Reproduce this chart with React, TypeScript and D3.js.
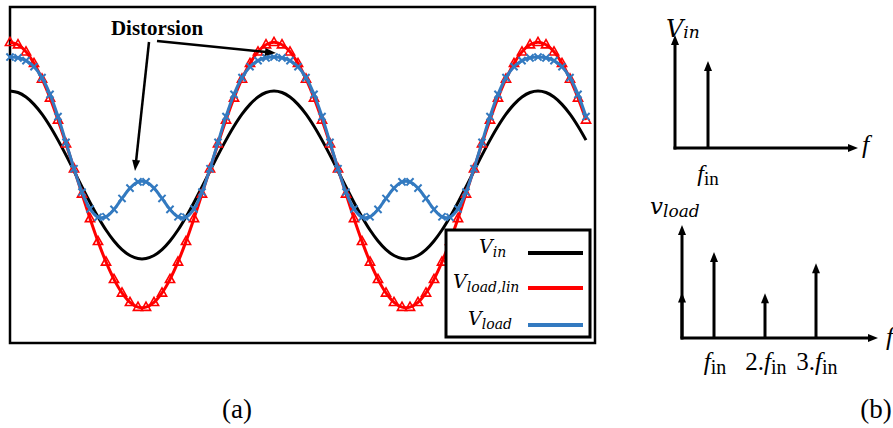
import React from "react";
import * as d3 from "d3";

const W = 893;
const H = 428;

// Time-domain series (sample index 0..72)
const vIn = [
  1.0, 0.982, 0.928, 0.841, 0.724, 0.58, 0.415, 0.236, 0.048, -0.142, -0.327, -0.5, -0.655, -0.786, -0.889, -0.959, -0.995,
  -0.995, -0.959, -0.889, -0.786, -0.655, -0.5, -0.327, -0.142, 0.048, 0.236, 0.415, 0.58, 0.724, 0.841, 0.928, 0.982,
  1.0, 0.982, 0.928, 0.841, 0.724, 0.58, 0.415, 0.236, 0.048, -0.142, -0.327, -0.5, -0.655, -0.786, -0.889, -0.959, -0.995,
  -0.995, -0.959, -0.889, -0.786, -0.655, -0.5, -0.327, -0.142, 0.048, 0.236, 0.415, 0.58, 0.724, 0.841, 0.928, 0.982,
  1.0, 0.982, 0.928, 0.841, 0.724, 0.58, 0.415,
];
const vLoadLin = [
  1.58, 1.551, 1.467, 1.329, 1.143, 0.917, 0.656, 0.372, 0.075, -0.225, -0.517, -0.79, -1.035, -1.242, -1.404, -1.516, -1.573,
  -1.573, -1.516, -1.404, -1.242, -1.035, -0.79, -0.517, -0.225, 0.075, 0.372, 0.656, 0.917, 1.143, 1.329, 1.467, 1.551,
  1.58, 1.551, 1.467, 1.329, 1.143, 0.917, 0.656, 0.372, 0.075, -0.225, -0.517, -0.79, -1.035, -1.242, -1.404, -1.516, -1.573,
  -1.573, -1.516, -1.404, -1.242, -1.035, -0.79, -0.517, -0.225, 0.075, 0.372, 0.656, 0.917, 1.143, 1.329, 1.467, 1.551,
  1.58, 1.551, 1.467, 1.329, 1.143, 0.917, 0.656,
];
const vLoad = [
  1.404, 1.395, 1.362, 1.289, 1.159, 0.96, 0.696, 0.389, 0.075, -0.203, -0.404, -0.503, -0.497, -0.409, -0.279, -0.156, -0.082,
  -0.082, -0.156, -0.279, -0.409, -0.497, -0.503, -0.404, -0.203, 0.075, 0.389, 0.696, 0.96, 1.159, 1.289, 1.362, 1.395,
  1.404, 1.395, 1.362, 1.289, 1.159, 0.96, 0.696, 0.389, 0.075, -0.203, -0.404, -0.503, -0.497, -0.409, -0.279, -0.156, -0.082,
  -0.082, -0.156, -0.279, -0.409, -0.497, -0.503, -0.404, -0.203, 0.075, 0.389, 0.696, 0.96, 1.159, 1.289, 1.362, 1.395,
  1.404, 1.395, 1.362, 1.289, 1.159, 0.96, 0.696,
];

const legendMain = ["V", "V", "V"];
const legendSub = ["in", "load,lin", "load"];

// Spectra
const inSpecHarm = [1];
const inSpecAmp = [1.0];
const loadSpecHarm = [0, 1, 2, 3];
const loadSpecAmp = [0.53, 1.0, 0.52, 0.87];
const loadSpecPrefix = ["", "", "2.", "3."];

const BLACK = "#000000";
const RED = "#ff0000";
const BLUE = "#337ac0";
const MATH = "DejaVu Serif, Liberation Serif, serif";
const TIMES = "Liberation Serif, Times New Roman, Times, serif";

function head(tx: number, ty: number, fx: number, fy: number, len = 10, wid = 8) {
  const a = Math.atan2(ty - fy, tx - fx);
  const bx = tx - len * Math.cos(a);
  const by = ty - len * Math.sin(a);
  const px = (wid / 2) * Math.sin(a);
  const py = (wid / 2) * Math.cos(a);
  return `${tx},${ty} ${bx + px},${by - py} ${bx - px},${by + py}`;
}

function Arrow({ x1, y1, x2, y2, w = 3, len = 10, wid = 8 }: any) {
  const a = Math.atan2(y2 - y1, x2 - x1);
  const ex = x2 - (len - 1) * Math.cos(a);
  const ey = y2 - (len - 1) * Math.sin(a);
  return (
    <g>
      <line x1={x1} y1={y1} x2={ex} y2={ey} stroke={BLACK} strokeWidth={w} />
      <polygon points={head(x2, y2, x1, y1, len, wid)} fill={BLACK} />
    </g>
  );
}

const mathStyle = (size: number) => ({ fontFamily: MATH, fontStyle: "italic" as const, fontSize: size });
const timesStyle = (size: number, extra: any = {}) => ({ fontFamily: TIMES, fontSize: size, ...extra });

export default function App() {
  const x = d3.scaleLinear().domain([0, 72]).range([10, 586]);
  const y = d3.scaleLinear().domain([-2, 2]).range([343, 7]);
  const line = d3
    .line<number>()
    .x((_, i) => x(i))
    .y((d) => y(d))
    .curve(d3.curveCatmullRom);

  // top spectrum scales
  const xTop = d3.scaleLinear().domain([0, 1]).range([675, 708]);
  const yTop = d3.scaleLinear().domain([0, 1]).range([148, 61]);
  // bottom spectrum scales
  const xBotH = d3.scaleLinear().domain([1, 3]).range([714, 816]);
  const xBot = (h: number) => (h === 0 ? 682 : xBotH(h));
  const yBot = d3.scaleLinear().domain([0, 1]).range([338, 252]);

  const legendColors = [BLACK, RED, BLUE];
  const legendY = [253, 288, 325];
  const legendTextX = [479, 453, 468];

  return (
    <svg
      width={W}
      height={H}
      viewBox={`0 0 ${W} ${H}`}
      style={{ position: "absolute", left: 0, top: 0, background: "#fff" }}
    >
      <rect x={0} y={0} width={W} height={H} fill="#fff" />
      {/* plot frame */}
      <rect x={10} y={7} width={585} height={336} fill="none" stroke={BLACK} strokeWidth={2.5} />

      {/* curves */}
      <path d={line(vIn) || ""} fill="none" stroke={BLACK} strokeWidth={3} />
      <path d={line(vLoadLin) || ""} fill="none" stroke={RED} strokeWidth={3} />
      {vLoadLin.map((d, i) => {
        const cx = x(i);
        const cy = y(d);
        return (
          <path
            key={"t" + i}
            d={`M${cx},${cy - 5}L${cx + 4.6},${cy + 3.2}L${cx - 4.6},${cy + 3.2}Z`}
            fill="none"
            stroke={RED}
            strokeWidth={1.6}
          />
        );
      })}
      <path d={line(vLoad) || ""} fill="none" stroke={BLUE} strokeWidth={3} />
      {vLoad.map((d, i) => {
        const cx = x(i);
        const cy = y(d);
        return (
          <path
            key={"x" + i}
            d={`M${cx - 3.6},${cy - 3.6}L${cx + 3.6},${cy + 3.6}M${cx - 3.6},${cy + 3.6}L${cx + 3.6},${cy - 3.6}`}
            stroke={BLUE}
            strokeWidth={2}
          />
        );
      })}

      {/* annotation */}
      <text x={157} y={35} textAnchor="middle" style={timesStyle(21, { fontWeight: "bold" })}>
        Distorsion
      </text>
      <Arrow x1={149} y1={42} x2={135} y2={171} w={2.5} len={11} wid={8} />
      <Arrow x1={157} y1={41} x2={276} y2={53} w={2.5} len={11} wid={8} />

      {/* legend */}
      <rect x={446} y={230} width={144} height={107} fill="#fff" stroke={BLACK} strokeWidth={3} />
      {legendMain.map((m, i) => (
        <g key={"lg" + i}>
          <text x={legendTextX[i]} y={legendY[i]} style={mathStyle(19)}>
            {m}
            <tspan style={{ fontSize: 14 }} dy={4}>
              {legendSub[i]}
            </tspan>
          </text>
          <line x1={528} x2={583} y1={legendY[i]} y2={legendY[i]} stroke={legendColors[i]} strokeWidth={4} />
        </g>
      ))}

      {/* (b) top spectrum */}
      <Arrow x1={675} y1={149.5} x2={675} y2={35} />
      <Arrow x1={673.5} y1={148} x2={858} y2={148} />
      {inSpecHarm.map((h, i) => (
        <Arrow key={"is" + i} x1={xTop(h)} y1={148} x2={xTop(h)} y2={yTop(inSpecAmp[i])} />
      ))}
      <text x={666} y={37} style={mathStyle(24)}>
        V
        <tspan style={{ fontSize: 17 }} dy={1}>
          in
        </tspan>
      </text>
      <text x={862} y={153} style={timesStyle(26, { fontStyle: "italic" })}>
        f
      </text>
      {inSpecHarm.map((h, i) => (
        <text key={"il" + i} x={xTop(h)} y={181} textAnchor="middle" style={timesStyle(24)}>
          <tspan style={{ fontStyle: "italic" }}>f</tspan>
          <tspan style={{ fontSize: 19 }} dy={4}>
            in
          </tspan>
        </text>
      ))}

      {/* (b) bottom spectrum */}
      <Arrow x1={682} y1={339.5} x2={682} y2={225} />
      <Arrow x1={680.5} y1={338} x2={878} y2={338} />
      {loadSpecHarm.map((h, i) => (
        <Arrow key={"ls" + i} x1={xBot(h)} y1={338} x2={xBot(h)} y2={yBot(loadSpecAmp[i])} />
      ))}
      <text x={650} y={214} style={mathStyle(23)}>
        v
        <tspan style={{ fontSize: 17 }} dy={3}>
          load
        </tspan>
      </text>
      <text x={886} y={345} style={timesStyle(26, { fontStyle: "italic" })}>
        f
      </text>
      {loadSpecHarm.map((h, i) =>
        h === 0 ? null : (
          <text key={"ll" + i} x={xBot(h) + 1} y={370} textAnchor="middle" style={timesStyle(25)}>
            {loadSpecPrefix[i]}
            <tspan style={{ fontStyle: "italic" }}>f</tspan>
            <tspan style={{ fontSize: 20 }} dy={4}>
              in
            </tspan>
          </text>
        )
      )}

      {/* captions */}
      <text x={237} y={418} textAnchor="middle" style={timesStyle(27)}>
        (a)
      </text>
      <text x={876} y={418} textAnchor="middle" style={timesStyle(27)}>
        (b)
      </text>
    </svg>
  );
}
